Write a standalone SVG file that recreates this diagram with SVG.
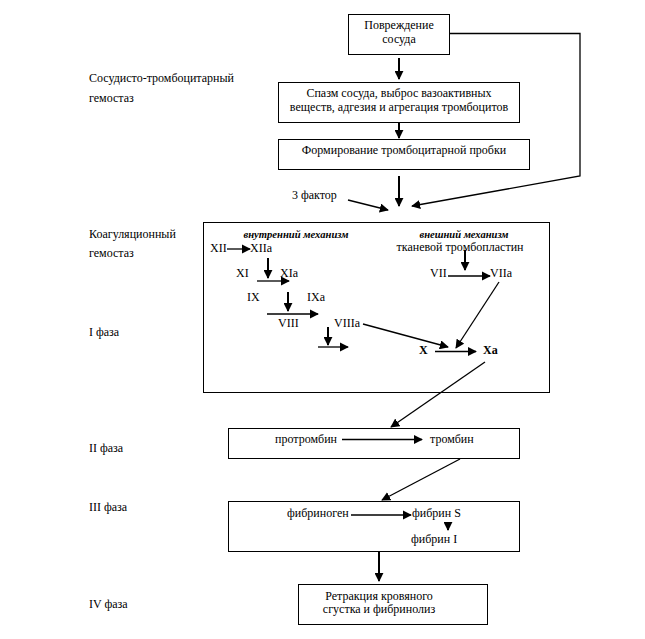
<svg xmlns="http://www.w3.org/2000/svg" width="645" height="639" viewBox="0 0 645 639" font-family="Liberation Serif, Times New Roman, DejaVu Serif, serif" font-size="12">
<defs>
<marker id="ah" viewBox="0 0 10 10" refX="9" refY="5" markerWidth="4.5" markerHeight="4.5" markerUnits="strokeWidth" orient="auto"><path d="M0,0 L10,5 L0,10 z" fill="#000"/></marker>
<marker id="ahs" viewBox="0 0 10 10" refX="9" refY="5" markerWidth="7" markerHeight="7" markerUnits="strokeWidth" orient="auto"><path d="M0,0 L10,5 L0,10 z" fill="#000"/></marker>
</defs>
<style>
text{font-family:'Liberation Serif','Times New Roman','DejaVu Serif',serif;font-size:12px;fill:#000}
.c{text-anchor:middle}
.b{font-weight:bold}
.i{font-style:italic;font-weight:bold;font-size:11px}
rect{fill:#fff;stroke:#000;stroke-width:1}
.a{stroke:#000;stroke-width:2;fill:none;marker-end:url(#ah)}
.t{stroke:#000;stroke-width:1.3;fill:none;marker-end:url(#ahs)}
</style>
<rect x="0" y="0" width="645" height="639" style="stroke:none"/>
<g id="labels">
<text x="89" y="82">Сосудисто-тромбоцитарный</text>
<text x="89" y="102">гемостаз</text>
<text x="89" y="238">Коагуляционный</text>
<text x="89" y="257">гемостаз</text>
<text x="89" y="336">I фаза</text>
<text x="89" y="452">II фаза</text>
<text x="89" y="511">III фаза</text>
<text x="89" y="608">IV фаза</text>
<text x="292" y="199">3 фактор</text>
</g>
<g id="n1"><rect x="348.5" y="14.5" width="101" height="40"/><text class="c" x="399" y="29">Повреждение</text><text class="c" x="399" y="43">сосуда</text></g>
<g id="n2"><rect x="278.5" y="82.5" width="241" height="40"/><text class="c" x="399" y="97">Спазм сосуда, выброс вазоактивных</text><text class="c" x="399" y="111">веществ, адгезия и агрегация тромбоцитов</text></g>
<g id="n3"><rect x="278.5" y="139.5" width="251" height="30"/><text class="c" x="404" y="154">Формирование тромбоцитарной пробки</text></g>
<g id="n4"><rect x="203.5" y="222.5" width="346" height="170"/>
<text class="i" x="243.5" y="237.5" textLength="105" lengthAdjust="spacingAndGlyphs">внутренний механизм</text>
<text class="i" x="419.5" y="237.5" textLength="89" lengthAdjust="spacingAndGlyphs">внешний механизм</text>
<text x="210" y="252">XII</text><text x="250" y="252">XIIa</text>
<text class="c" x="460" y="251">тканевой тромбопластин</text>
<text x="236" y="277">XI</text><text x="280" y="277">XIa</text>
<text x="247" y="301">IX</text><text x="307" y="301">IXa</text>
<text x="278" y="327">VIII</text><text x="334" y="327">VIIIa</text>
<text x="430" y="277">VII</text><text x="490" y="277">VIIa</text>
<text class="b" x="419" y="354">X</text><text class="b" x="483" y="354">Xa</text>
</g>
<g id="n5"><rect x="228.5" y="428.5" width="291" height="30"/><text x="275" y="443">протромбин</text><text x="430" y="443">тромбин</text></g>
<g id="n6"><rect x="228.5" y="501.5" width="291" height="50"/><text x="287" y="517">фибриноген</text><text x="412" y="517">фибрин S</text><text x="411" y="543">фибрин I</text></g>
<g id="n7"><rect x="298.5" y="584.5" width="189" height="40"/><text class="c" x="379" y="600">Ретракция кровяного</text><text class="c" x="379" y="613">сгустка и фибринолиз</text></g>
<g id="connectors">
<path class="a" d="M399,58 V79"/>
<path class="a" d="M399,123 V138"/>
<path class="a" d="M399,176 V206"/>
<path class="t" d="M449.5,33.5 H580 V176 L412,206"/>
<path class="t" d="M348,200 L388,210"/>
<path class="t" d="M227,249 H250"/>
<path class="a" d="M268,258 V278"/>
<path class="t" d="M257,281 H289"/>
<path class="a" d="M288,292 V311"/>
<path class="t" d="M267,314 H318"/>
<path class="a" d="M328,327 V345"/>
<path class="t" d="M318,347 H348"/>
<path class="a" d="M465,250 V270"/>
<path class="t" d="M448,276 H490"/>
<path class="t" d="M363,324 L448,347"/>
<path class="t" d="M499,282 L456,348"/>
<path class="t" d="M435,351.5 H476"/>
<path class="t" d="M485,362 L391,427"/>
<path class="t" d="M342,439.5 H422"/>
<path class="t" d="M460,459 L382,500"/>
<path class="t" d="M351,515 H411"/>
<path class="a" d="M448,522 V530"/>
<path class="a" d="M379,552 V581"/>
</g>
</svg>
